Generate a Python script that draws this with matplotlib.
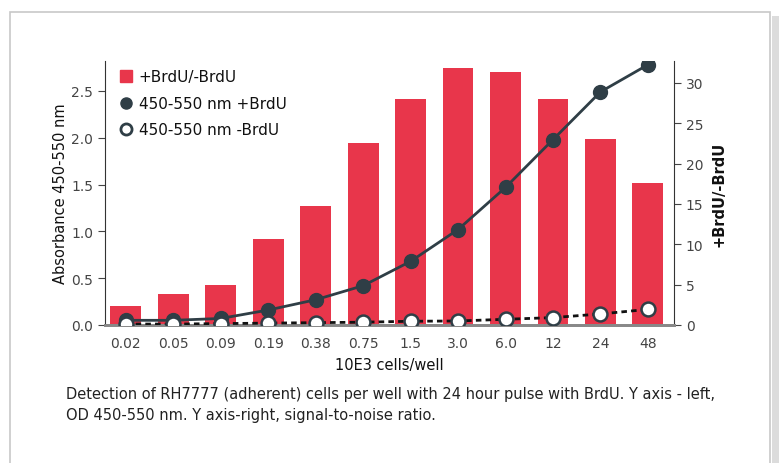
import matplotlib.pyplot as plt
from matplotlib.lines import Line2D
from matplotlib.patches import Rectangle

# data
cells = ["0.02", "0.05", "0.09", "0.19", "0.38", "0.75", "1.5", "3.0", "6.0", "12", "24", "48"]
ratio = [2.35, 3.8, 4.95, 10.6, 14.7, 22.5, 28.0, 31.8, 31.3, 28.0, 23.0, 17.6]
od_plus = [0.05, 0.05, 0.07, 0.16, 0.27, 0.42, 0.68, 1.02, 1.47, 1.98, 2.49, 2.78]
od_minus = [0.01, 0.01, 0.015, 0.02, 0.025, 0.03, 0.04, 0.043, 0.061, 0.079, 0.118, 0.167]

red = "#e8364b"
dark = "#2f3e46"
txt = "#333333"

fig = plt.figure(figsize=(7.79, 4.64), dpi=100)

# page frame around the figure
fig.patches.append(Rectangle((10 / 779, -0.01), 760 / 779, 1 - 13 / 464 + 0.01,
                             transform=fig.transFigure, fill=False,
                             edgecolor="#c8c8c8", linewidth=1.2))
fig.patches.append(Rectangle((772 / 779, -0.01), 7 / 779, 1 - 17 / 464 + 0.01,
                             transform=fig.transFigure, facecolor="#dcdcdc",
                             edgecolor="none"))

ax = fig.add_axes([105 / 779, 1 - 326 / 464, 569 / 779, 264 / 464])
axr = ax.twinx()
ax.set_zorder(2)
ax.patch.set_visible(False)

x = list(range(len(cells)))

axr.bar(x, ratio, width=0.65, color=red)
axr.set_ylim(0, 32.7)
axr.set_yticks([0, 5, 10, 15, 20, 25, 30])

ax.plot(x, od_plus, color=dark, lw=2.0, marker="o", ms=10, zorder=3)
ax.plot(x, od_minus, color="#111111", lw=2.0, ls=(0, (2, 1.5)), zorder=3)
ax.plot(x, od_minus, ls="none", marker="o", ms=10, mfc="white", mec=dark,
        mew=1.8, zorder=4)
ax.set_ylim(0, 2.82)
ax.set_xlim(-0.44, 11.55)
ax.set_yticks([0, 0.5, 1.0, 1.5, 2.0, 2.5])
ax.set_yticklabels(["0.0", "0.5", "1.0", "1.5", "2.0", "2.5"])
ax.set_xticks(x)
ax.set_xticklabels(cells)

for a in (ax, axr):
    a.spines["top"].set_visible(False)
    a.spines["bottom"].set_color("#888888")
    a.spines["bottom"].set_linewidth(2)
    a.spines["left"].set_color(txt)
    a.spines["right"].set_color(txt)
    a.tick_params(colors="#444444", labelsize=10, length=5)
ax.tick_params(axis="x", length=0, pad=8)
axr.spines["left"].set_visible(False)
ax.spines["right"].set_visible(False)

ax.set_xlabel("10E3 cells/well", fontsize=10.5, color="#111111", labelpad=5)
ax.set_ylabel("Absorbance 450-550 nm", fontsize=10.5, color="#111111", labelpad=2)
axr.set_ylabel("+BrdU/-BrdU", fontsize=10.5, color="#111111", fontweight="bold",
               labelpad=6)

handles = [
    Line2D([], [], ls="none", marker="s", ms=8, color=red),
    Line2D([], [], ls="none", marker="o", ms=8, color=dark),
    Line2D([], [], ls="none", marker="o", ms=8, mfc="white", mec=dark, mew=2),
]
labels = ["+BrdU/-BrdU", "450-550 nm +BrdU", "450-550 nm -BrdU"]
ax.legend(handles, labels, loc="upper left", bbox_to_anchor=(0.0, 1.02),
          frameon=False, fontsize=11, labelspacing=0.75, handletextpad=0.3,
          handlelength=1.0, labelcolor="#111111")

fig.text(66 / 779, 1 - 405 / 464,
         "Detection of RH7777 (adherent) cells per well with 24 hour pulse with BrdU. Y axis - left,\n"
         "OD 450-550 nm. Y axis-right, signal-to-noise ratio.",
         fontsize=10.5, color="#222222", va="center", linespacing=1.5)

fig.savefig("out.png", dpi=100)
